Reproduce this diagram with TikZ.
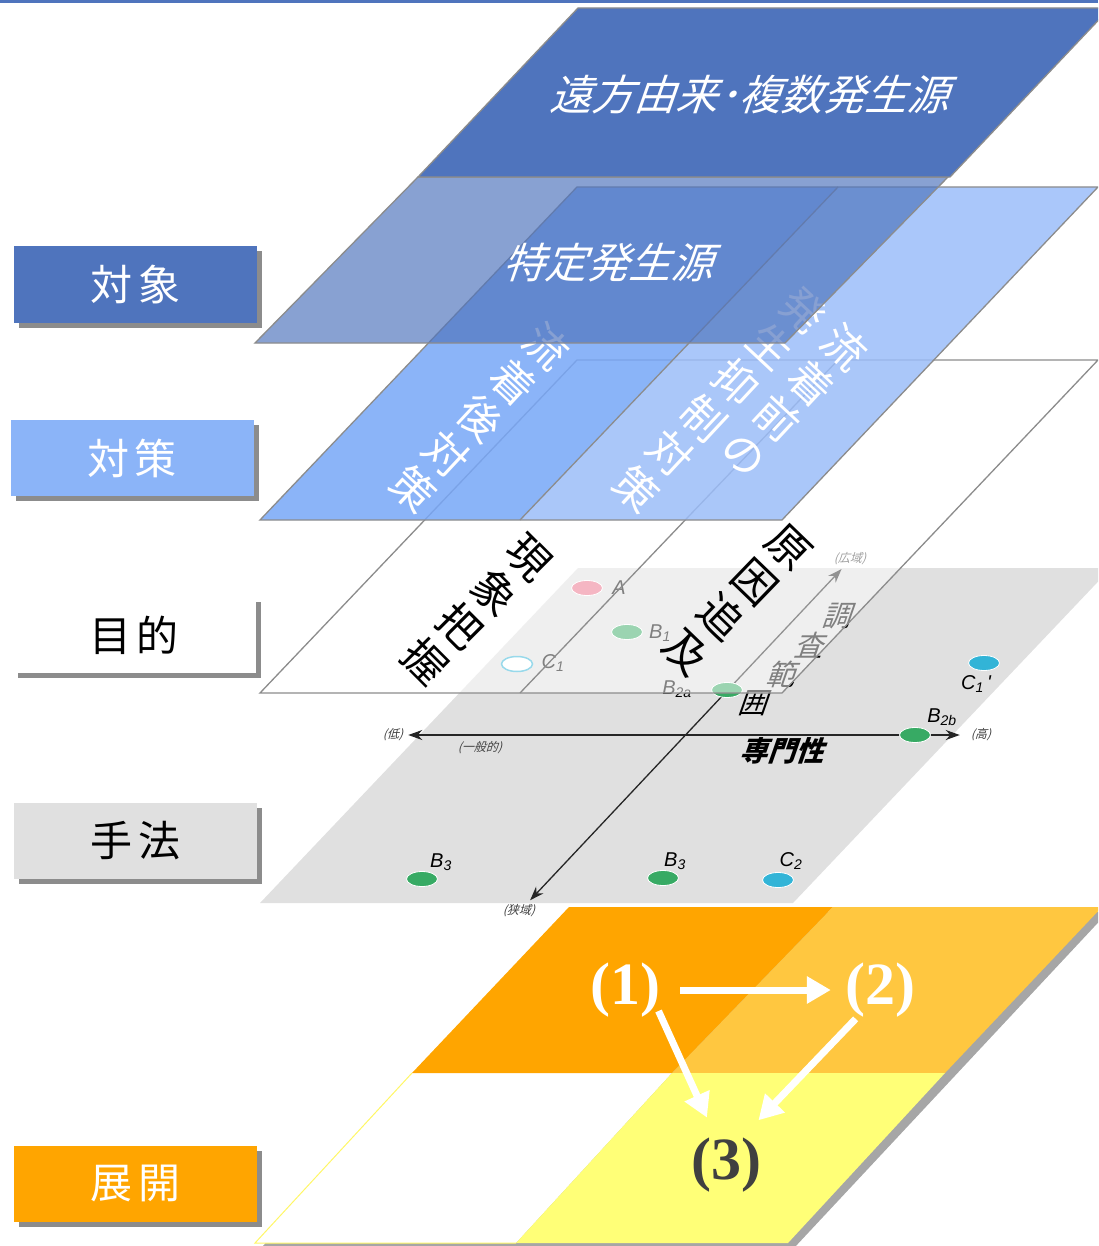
\documentclass[tikz,border=0pt]{standalone}
\usepackage{fontspec}
\usepackage{tikz}
\usetikzlibrary{arrows.meta}
\usetikzlibrary{shapes.geometric}
\usetikzlibrary{shadows}
\newfontfamily\jp{Noto Sans CJK JP}
\newfontfamily\lab{Liberation Sans}
\newfontfamily\num{Liberation Serif}
\definecolor{objblue}{RGB}{79,116,189}
\definecolor{cntL}{RGB}{119,167,247}
\definecolor{cntR}{RGB}{155,189,249}
\definecolor{cntbox}{RGB}{139,180,248}
\definecolor{mthgray}{RGB}{224,224,224}
\definecolor{edgegray}{RGB}{140,140,140}
\definecolor{devA}{RGB}{255,165,0}
\definecolor{devB}{RGB}{255,199,64}
\definecolor{devC}{RGB}{255,255,119}
\definecolor{dotpink}{RGB}{235,110,135}
\definecolor{dotgreen}{RGB}{55,170,100}
\definecolor{dotcyan}{RGB}{50,180,215}

\begin{document}
\begin{tikzpicture}
[x=1pt,y=-1pt
,plane/.style={draw=edgegray,line width=1.3pt}
,lbox/.style={minimum width=243,minimum height=76,inner sep=0,font=\jp\fontsize{42}{48}\selectfont,drop shadow={shadow xshift=5pt,shadow yshift=-5pt,fill=black!45,opacity=1}}
,vcol/.style={align=center,inner sep=0,font=\jp\fontsize{43}{49}\selectfont}
,slanted/.style={xslant=0.35,inner sep=0}
,dotn/.style={ellipse,minimum width=31,minimum height=15,inner sep=0,draw=white,line width=0.8pt}
,dlab/.style={inner sep=0,font=\lab\itshape\fontsize{20}{22}\selectfont}
,slab/.style={inner sep=0,xslant=0.3,text=black!75,font=\jp\fontsize{12}{14}\selectfont}
,axis/.style={line width=1.3pt,black!85,arrows={Stealth[length=14pt,width=10pt]-Stealth[length=14pt,width=10pt]}}
,warr/.style={white,line width=7pt,arrows={-Triangle[length=24pt,width=26pt]}}
,numn/.style={inner sep=0,font=\num\bfseries\fontsize{60}{60}\selectfont}
]
\useasboundingbox (0,0) rectangle (1098,1246);
\clip (0,0) rectangle (1098,1246);
\fill[objblue] (0,0) rectangle (1098,3);

\fill[black!35] (575,912) -- (1108,912) -- (794,1248) -- (261,1248) -- cycle;
\fill[white] (412,1073) -- (672,1073) -- (516,1243) -- (255,1243) -- cycle;
\fill[devA] (569,907) -- (833,907) -- (672,1073) -- (412,1073) -- cycle;
\fill[devB] (833,907) -- (1102,907) -- (945,1073) -- (672,1073) -- cycle;
\fill[devC] (672,1073) -- (945,1073) -- (788,1243) -- (516,1243) -- cycle;
\draw[yellow!60!white,line width=1pt] (412,1073) -- (255,1243) -- (516,1243);

\node[numn,text=white] (n1) at (625,990) {(1)};
\node[numn,text=white] (n2) at (880,990) {(2)};
\node[numn,text=black!75] (n3) at (726,1165) {(3)};
\draw[warr,shorten <=20pt,shorten >=14pt] (n1.east) -- (n2.west);
\draw[warr,shorten <=-4pt,shorten >=22pt] (n1.-35) -- (n3.110);
\draw[warr,shorten <=2pt,shorten >=24pt] (n2.-130) -- (n3.60);

\fill[mthgray] (578,568) -- (1111,568) -- (793,903) -- (260,903) -- cycle;
\node[slab] (lo) at (394,735) {(低)};
\node[slab] (gen) at (481,748) {(一般的)};
\node[slab] (hi) at (982,735) {(高)};
\node[slab] (wide) at (851,559) {(広域)};
\node[slab] (narrow) at (520,911) {(狭域)};
\draw[axis,shorten <=4pt,shorten >=12pt] (lo.east) -- (hi.west);
\draw[axis,shorten <=6pt,shorten >=5pt] (narrow) -- (wide);
\node[slanted,font=\jp\bfseries\fontsize{28}{30}\selectfont] (spec) at (785,751) {専門性};
\foreach \ch [count=\i] in {調,査,範,囲}
  \node[slanted,font=\jp\fontsize{29}{30}\selectfont] (rng\i) at ({868-28*\i},{587+29*\i}) {\ch};

\node[dotn,fill=dotpink] (dA) at (587,588) {};
\node[dlab] (lA) at (619,588) {A};
\node[dotn,fill=dotgreen] (dB1) at (627,632) {};
\node[dlab] (lB1) at (660,633) {B\textsubscript{1}};
\node[dotn,fill=white,draw=dotcyan,line width=1.5pt] (dC1) at (517,664) {};
\node[dlab] (lC1) at (553,663) {C\textsubscript{1}};
\node[dotn,fill=dotgreen] (dB2a) at (727,690) {};
\node[dlab] (lB2a) at (677,689) {B\textsubscript{2a}};
\node[dotn,fill=dotcyan] (dC1p) at (984,663) {};
\node[dlab] (lC1p) at (976,684) {C\textsubscript{1}\,'};
\node[dotn,fill=dotgreen] (dB2b) at (915,735) {};
\node[dlab] (lB2b) at (942,717) {B\textsubscript{2b}};
\node[dotn,fill=dotgreen] (dB3) at (422,879) {};
\node[dlab] (lB3) at (441,862) {B\textsubscript{3}};
\node[dotn,fill=dotgreen] (dB3m) at (663,878) {};
\node[dlab] (lB3m) at (675,861) {B\textsubscript{3}};
\node[dotn,fill=dotcyan] (dC2) at (778,880) {};
\node[dlab] (lC2) at (791,861) {C\textsubscript{2}};

\fill[white,opacity=0.5] (577,360) -- (1098,360) -- (782,693) -- (260,693) -- cycle;
\draw[plane] (577,360) -- (1098,360) -- (782,693) -- (260,693) -- cycle;
\draw[plane] (838,360) -- (520,693);
\node[vcol,rotate=-45] (g1) at (477,610) {現\\象\\把\\握};
\node[vcol,rotate=-44] (g2) at (737,600) {原\\因\\追\\及};

\fill[cntL,opacity=0.85] (577,187) -- (838,187) -- (520,520) -- (260,520) -- cycle;
\fill[cntR,opacity=0.85] (838,187) -- (1098,187) -- (782,520) -- (520,520) -- cycle;
\draw[plane] (577,187) -- (1098,187) -- (782,520) -- (260,520) -- cycle;
\draw[plane] (838,187) -- (520,520);
\node[vcol,rotate=-43,text=white] (t1) at (480,418) {流\\着\\後\\対\\策};
\node[vcol,rotate=-43,text=white] (t2) at (795,400) {流\\着\\前\\の};
\node[vcol,rotate=-43,text=white] (t3) at (720,400) {発\\生\\抑\\制\\対\\策};

\fill[objblue,opacity=0.68] (418,177) -- (948,177) -- (785,343) -- (255,343) -- cycle;
\draw[plane] (418,177) -- (948,177) -- (785,343) -- (255,343) -- cycle;
\node[slanted,text=white,font=\jp\fontsize{42}{48}\selectfont] (tk) at (613,263) {特定発生源};

\fill[objblue] (578,8) -- (1110,8) -- (950,177) -- (418,177) -- cycle;
\draw[plane] (578,8) -- (1110,8) -- (950,177) -- (418,177) -- cycle;
\node[slanted,text=white,font=\jp\fontsize{42}{48}\selectfont] (far) at (755,95) {遠方由来･複数発生源};

\node[lbox,fill=objblue,text=white] (lobj) at (135.5,284.5) {対\hspace{6pt}象};
\node[lbox,fill=cntbox,text=white] (lcnt) at (132,458) {対\hspace{6pt}策};
\node[lbox,fill=white] (lpur) at (134,635) {目\hspace{6pt}的};
\node[lbox,fill=mthgray] (lmth) at (135.5,841) {手\hspace{6pt}法};
\node[lbox,fill=devA,text=white] (ldev) at (135.5,1183.5) {展\hspace{6pt}開};
\end{tikzpicture}
\end{document}
